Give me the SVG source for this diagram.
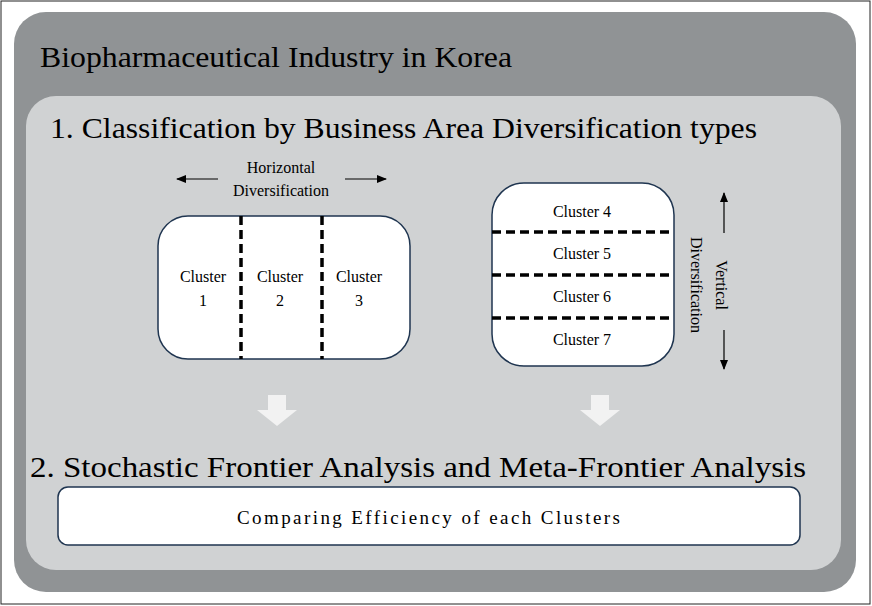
<svg xmlns="http://www.w3.org/2000/svg" width="872" height="606" viewBox="0 0 872 606" font-family="'Liberation Serif','Times New Roman',Times,serif">
<style>
text{font-family:"Liberation Serif","Times New Roman",Times,serif;fill:#000}
.c{font-size:16px;text-anchor:middle}
.d{stroke:#000;stroke-width:3.5;stroke-dasharray:9,5}
.box{fill:#fff;stroke:#1f3550;stroke-width:1.5}
.ar{stroke:#000;stroke-width:1.2;marker-end:url(#ah)}
.t{font-size:30px}
</style>
<defs><marker id="ah" markerWidth="10" markerHeight="8" refX="9" refY="4" orient="auto" markerUnits="userSpaceOnUse"><path d="M0,0L10,4L0,8Z" fill="#000"/></marker></defs>
<rect x="0" y="0" width="872" height="606" fill="#fff"/>
<rect x="1" y="1" width="869" height="603" fill="none" stroke="#222" stroke-width="1"/>
<g id="outer"><rect x="14" y="12" width="842" height="580" rx="32" fill="#909395"/>
<text class="t" x="40" y="67" textLength="472" lengthAdjust="spacingAndGlyphs">Biopharmaceutical Industry in Korea</text></g>
<g id="inner"><rect x="26" y="96" width="815" height="474" rx="30" fill="#d0d2d3"/>
<text class="t" x="50" y="138" textLength="707" lengthAdjust="spacingAndGlyphs">1. Classification by Business Area Diversification types</text>
<text class="t" x="30" y="477" textLength="776" lengthAdjust="spacingAndGlyphs">2. Stochastic Frontier Analysis and Meta-Frontier Analysis</text></g>
<g id="horiz"><rect class="box" x="158" y="216" width="252" height="143" rx="30"/>
<line class="d" x1="241" y1="216" x2="241" y2="359"/><line class="d" x1="322" y1="216" x2="322" y2="359"/>
<text class="c" x="203" y="282">Cluster</text><text class="c" x="203" y="306">1</text>
<text class="c" x="280" y="282">Cluster</text><text class="c" x="280" y="306">2</text>
<text class="c" x="359" y="282">Cluster</text><text class="c" x="359" y="306">3</text>
<text class="c" x="281" y="173">Horizontal</text><text class="c" x="281" y="196">Diversification</text></g>
<g id="vert"><rect class="box" x="492" y="183" width="182" height="183" rx="32"/>
<line class="d" x1="492" y1="232" x2="674" y2="232"/><line class="d" x1="492" y1="275" x2="674" y2="275"/><line class="d" x1="492" y1="318" x2="674" y2="318"/>
<text class="c" x="582" y="217">Cluster 4</text><text class="c" x="582" y="259">Cluster 5</text>
<text class="c" x="582" y="302">Cluster 6</text><text class="c" x="582" y="345">Cluster 7</text>
<text class="c" transform="translate(700,285) rotate(90)"><tspan x="0" y="-16">Vertical</tspan><tspan x="0" y="9">Diversification</tspan></text></g>
<g id="connectors">
<line class="ar" x1="218" y1="179" x2="177" y2="179"/><line class="ar" x1="345" y1="179" x2="386" y2="179"/>
<line class="ar" x1="724" y1="233" x2="724" y2="193"/><line class="ar" x1="724" y1="330" x2="724" y2="369"/>
<path d="M268,395h18v15h11l-20,16l-20,-16h11z" fill="#f2f2f2"/>
<path d="M591,395h18v15h11l-20,16l-20,-16h11z" fill="#f2f2f2"/>
</g>
<g id="bottom"><rect class="box" x="58" y="487" width="742" height="58" rx="10"/>
<text x="237" y="524" font-size="19" textLength="383" lengthAdjust="spacing">Comparing Efficiency of each Clusters</text></g>
</svg>
